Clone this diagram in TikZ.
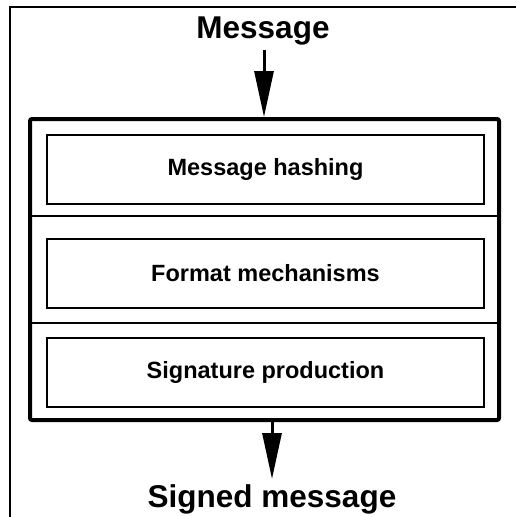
\documentclass[tikz,border=0pt]{standalone}
\usepackage{fontspec}
\setmainfont{Liberation Sans}
\usetikzlibrary{arrows.meta}
\begin{document}
\begin{tikzpicture}[x=1pt,y=-1pt,
  heading/.style={font=\bfseries\fontsize{31.5}{36}\selectfont, inner sep=0pt},
  stage/.style={draw, line width=2pt, minimum width=437pt, minimum height=69pt,
                font=\bfseries\fontsize{23.5}{28}\selectfont, inner sep=0pt},
  flow/.style={line width=3pt, -{Triangle[width=19pt,length=46pt]}},
  thin/.style={line width=2pt}]
\useasboundingbox (0,0) rectangle (516,517);

% open frame (left and top edges)
\coordinate (fbl) at (10,517);
\coordinate (ftl) at (10,7);
\coordinate (ftr) at (516,7);
\draw[thin] (fbl) -- (ftl) -- (ftr);

% process block
\node[draw, line width=4pt, rounded corners=2pt, minimum width=469pt, minimum height=301pt,
      inner sep=0pt] (proc) at (264.5,269.5) {};

\node[stage] (hash) at (265.5,169.5) {Message hashing};
\node[stage] (fmt)  at (265.5,273.5) {Format mechanisms};
\node[stage] (sig)  at (265.5,372)   {Signature production};

% separators between the stages
\draw[thin] (proc.west |- 0,216) coordinate (s1l) -- (proc.east |- 0,216) coordinate (s1r);
\draw[thin] (proc.west |- 0,323) coordinate (s2l) -- (proc.east |- 0,323) coordinate (s2r);

% input and output
\node[heading, anchor=base] (msg) at (263,38) {Message};
\node[heading, anchor=base] (signed) at (272,507) {Signed message};

\coordinate (inS) at (264,50);
\coordinate (inE) at (proc.north -| 264,0);
\draw[flow] (inS) -- (inE);
\coordinate (outS) at (proc.south -| 272,0);
\coordinate (outE) at (272,479);
\draw[flow] (outS) -- (outE);
\end{tikzpicture}
\end{document}
